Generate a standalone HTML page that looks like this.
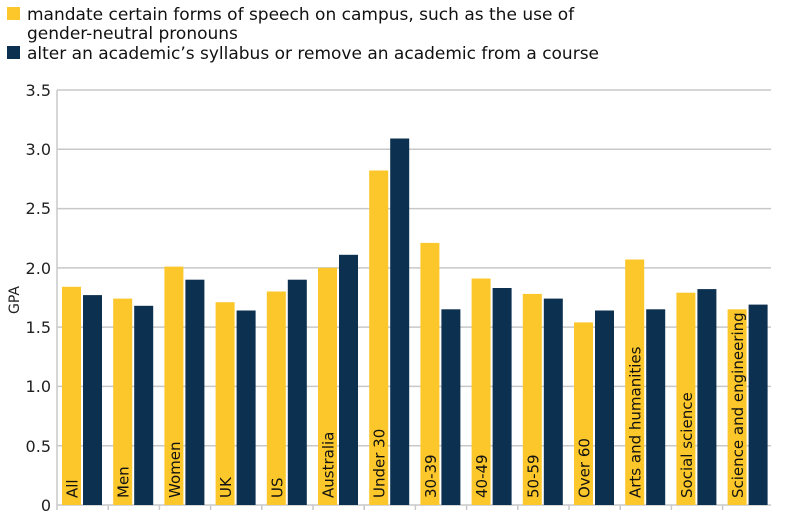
<!DOCTYPE html><html><head><style>body{margin:0;background:#fff}svg{display:block;font-family:"DejaVu Sans","Liberation Sans",sans-serif}</style></head><body>
<svg width="785" height="523" viewBox="0 0 785 523" xmlns="http://www.w3.org/2000/svg">
<rect x="7" y="7" width="13" height="13" fill="#fcc72a"/>
<text x="27" y="20" font-size="17" fill="#111">mandate certain forms of speech on campus, such as the use of</text>
<text x="27" y="39" font-size="17" fill="#111">gender-neutral pronouns</text>
<rect x="7" y="46" width="13" height="13" fill="#0c3050"/>
<text x="27" y="59" font-size="17" fill="#111">alter an academic’s syllabus or remove an academic from a course</text>
<g stroke="#c8c8c8" stroke-width="1.5">
<line x1="57" y1="90" x2="771" y2="90"/><line x1="57" y1="149.3" x2="771" y2="149.3"/><line x1="57" y1="208.6" x2="771" y2="208.6"/><line x1="57" y1="267.9" x2="771" y2="267.9"/><line x1="57" y1="327.1" x2="771" y2="327.1"/><line x1="57" y1="386.4" x2="771" y2="386.4"/><line x1="57" y1="445.7" x2="771" y2="445.7"/><line x1="57" y1="505" x2="771" y2="505"/>
<line x1="57" y1="90" x2="57" y2="505"/>
<line x1="57" y1="505" x2="57" y2="510"/><line x1="108.2" y1="505" x2="108.2" y2="510"/><line x1="159.4" y1="505" x2="159.4" y2="510"/><line x1="210.6" y1="505" x2="210.6" y2="510"/><line x1="261.8" y1="505" x2="261.8" y2="510"/><line x1="313" y1="505" x2="313" y2="510"/><line x1="364.2" y1="505" x2="364.2" y2="510"/><line x1="415.4" y1="505" x2="415.4" y2="510"/><line x1="466.6" y1="505" x2="466.6" y2="510"/><line x1="517.8" y1="505" x2="517.8" y2="510"/><line x1="569" y1="505" x2="569" y2="510"/><line x1="620.2" y1="505" x2="620.2" y2="510"/><line x1="671.4" y1="505" x2="671.4" y2="510"/><line x1="722.6" y1="505" x2="722.6" y2="510"/>
</g>
<g font-size="16" fill="#222" text-anchor="end">
<text x="51" y="96">3.5</text><text x="51" y="155">3.0</text><text x="51" y="214">2.5</text><text x="51" y="274">2.0</text><text x="51" y="333">1.5</text><text x="51" y="392">1.0</text><text x="51" y="452">0.5</text><text x="51" y="511">0</text>
</g>
<text transform="translate(19,300) rotate(-90)" font-size="14" fill="#222" text-anchor="middle">GPA</text>
<g fill="#fcc72a">
<rect x="62" y="286.8" width="19" height="218.2"/>
<rect x="113.2" y="298.6" width="19" height="206.4"/>
<rect x="164.4" y="266.6" width="19" height="238.4"/>
<rect x="215.6" y="302.2" width="19" height="202.8"/>
<rect x="266.8" y="291.5" width="19" height="213.5"/>
<rect x="318" y="267.8" width="19" height="237.2"/>
<rect x="369.2" y="170.5" width="19" height="334.5"/>
<rect x="420.4" y="242.9" width="19" height="262.1"/>
<rect x="471.6" y="278.5" width="19" height="226.5"/>
<rect x="522.8" y="293.9" width="19" height="211.1"/>
<rect x="574" y="322.4" width="19" height="182.6"/>
<rect x="625.2" y="259.5" width="19" height="245.5"/>
<rect x="676.4" y="292.7" width="19" height="212.3"/>
<rect x="727.6" y="309.3" width="19" height="195.7"/>
</g>
<g fill="#0c3050">
<rect x="83" y="295.1" width="19" height="209.9"/>
<rect x="134.2" y="305.8" width="19" height="199.2"/>
<rect x="185.4" y="279.7" width="19" height="225.3"/>
<rect x="236.6" y="310.5" width="19" height="194.5"/>
<rect x="287.8" y="279.7" width="19" height="225.3"/>
<rect x="339" y="254.8" width="19" height="250.2"/>
<rect x="390.2" y="138.5" width="19" height="366.5"/>
<rect x="441.4" y="309.3" width="19" height="195.7"/>
<rect x="492.6" y="288" width="19" height="217"/>
<rect x="543.8" y="298.6" width="19" height="206.4"/>
<rect x="595" y="310.5" width="19" height="194.5"/>
<rect x="646.2" y="309.3" width="19" height="195.7"/>
<rect x="697.4" y="289.1" width="19" height="215.9"/>
<rect x="748.6" y="304.6" width="19" height="200.4"/>
</g>
<g font-size="15" fill="#111">
<text transform="translate(77.5,498) rotate(-90)">All</text>
<text transform="translate(128.7,498) rotate(-90)">Men</text>
<text transform="translate(179.9,498) rotate(-90)">Women</text>
<text transform="translate(231.1,498) rotate(-90)">UK</text>
<text transform="translate(282.3,498) rotate(-90)">US</text>
<text transform="translate(333.5,498) rotate(-90)">Australia</text>
<text transform="translate(384.7,498) rotate(-90)">Under 30</text>
<text transform="translate(435.9,498) rotate(-90)">30-39</text>
<text transform="translate(487.1,498) rotate(-90)">40-49</text>
<text transform="translate(538.3,498) rotate(-90)">50-59</text>
<text transform="translate(589.5,498) rotate(-90)">Over 60</text>
<text transform="translate(640.7,498) rotate(-90)">Arts and humanities</text>
<text transform="translate(691.9,498) rotate(-90)">Social science</text>
<text transform="translate(743.1,498) rotate(-90)">Science and engineering</text>
</g>
</svg></body></html>
